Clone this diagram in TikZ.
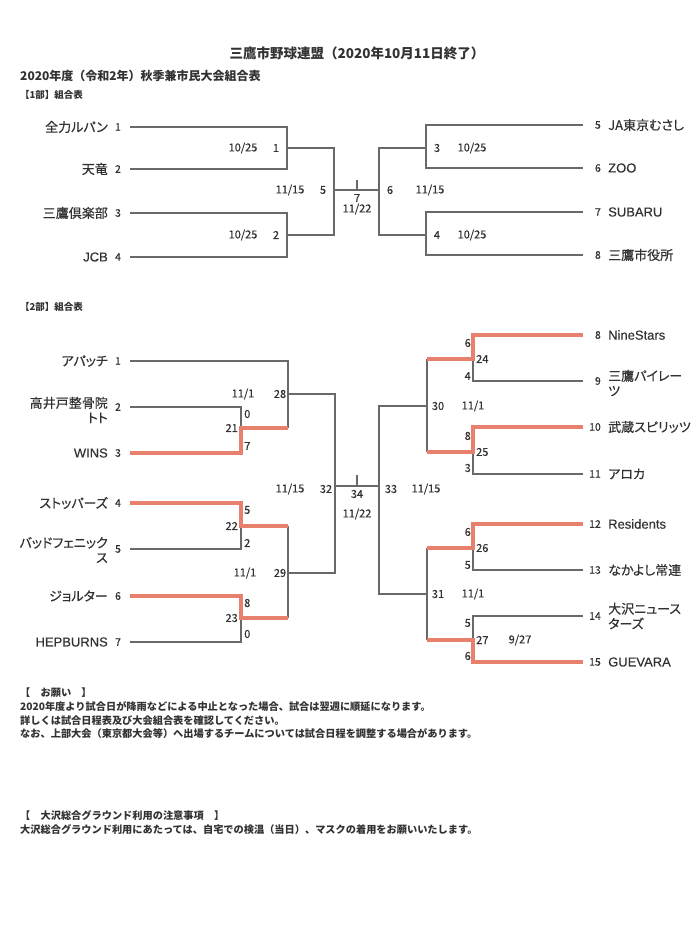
\documentclass[tikz,border=0pt]{standalone}
\usepackage{fontspec}
\setmainfont{Liberation Sans}[FakeBold=0.3]
\newfontfamily\jp{Noto Sans CJK JP}[FakeBold=0.3]
\newfontfamily\jpp{Noto Sans CJK JP}[RawFeature=+palt,FakeBold=0.35]
\newfontfamily\jpb{Noto Sans CJK JP}
\definecolor{txt}{RGB}{50,50,50}
\definecolor{lnc}{RGB}{105,105,105}
\definecolor{winc}{RGB}{232,128,110}
\tikzset{
  ln/.style={draw=lnc, line width=1.1pt},
  win/.style={draw=winc, line width=3.2pt, line join=miter},
  tname/.style={font=\jpp\fontsize{13}{15}\selectfont, text=txt, inner sep=0pt},
  lname/.style={font=\fontsize{13}{15}\selectfont, text=txt, inner sep=0pt},
  tnum/.style={font=\jp\fontsize{10.5}{12}\selectfont, text=txt, inner sep=0pt},
  lbl/.style={font=\jp\fontsize{11}{12}\selectfont, text=txt, inner sep=0pt},
  head/.style={font=\jpb\bfseries\fontsize{12}{14}\selectfont, text=txt, inner sep=0pt, anchor=west},
  note/.style={font=\jpb\bfseries\fontsize{10.2}{12}\selectfont, text=txt, inner sep=0pt, anchor=west},
}
\begin{document}
\begin{tikzpicture}[x=1pt,y=-1pt]
\useasboundingbox[fill=white] (0,0) rectangle (699,944);

% ---------- headers ----------
\node[font=\jpb\bfseries\fontsize{13.5}{16}\selectfont, text=txt, inner sep=0pt] (title) at (357,53) {三鷹市野球連盟（2020年10月11日終了）};
\node[head] (sub) at (20,76) {2020年度（令和2年）秋季兼市民大会組合表};
\node[head, font=\jpb\bfseries\fontsize{9.5}{11}\selectfont] (h1) at (20,95) {【1部】組合表};
\node[head, font=\jpb\bfseries\fontsize{9.5}{11}\selectfont] (h2) at (20,307) {【2部】組合表};

% ---------- section 1 coordinates ----------
\coordinate (t1s) at (130,127);
\coordinate (t2s) at (130,169);
\coordinate (t3s) at (130,213);
\coordinate (t4s) at (130,257);
\coordinate (m1) at (287,148);
\coordinate (m2) at (287,235);
\coordinate (m5) at (334,190);
\coordinate (c7) at (357,190);
\coordinate (c7t) at (357,180);
\coordinate (m6) at (379,190);
\coordinate (m3) at (426,148);
\coordinate (m4) at (426,235);
\coordinate (t5s) at (583,125);
\coordinate (t6s) at (583,168);
\coordinate (t7s) at (583,212);
\coordinate (t8s) at (583,255);

\draw[ln] (t1s) -| (m1) |- (t2s);
\draw[ln] (t3s) -| (m2) |- (t4s);
\draw[ln] (m1) -| (m5) |- (m2);
\draw[ln] (m5) -- (c7) -- (m6);
\draw[ln] (c7) -- (c7t);
\draw[ln] (m3) -| (m6) |- (m4);
\draw[ln] (t5s) -| (m3) |- (t6s);
\draw[ln] (t7s) -| (m4) |- (t8s);

% section 1 team labels
\node[tname, anchor=east] (n1a) at (108,127) {全力ルパン};
\node[tnum] (k1a) at (118,127) {1};
\node[tname, anchor=east] (n1b) at (108,169) {天竜};
\node[tnum] (k1b) at (118,169) {2};
\node[tname, anchor=east] (n1c) at (108,213) {三鷹倶楽部};
\node[tnum] (k1c) at (118,213) {3};
\node[lname, anchor=east] (n1d) at (108,257) {JCB};
\node[tnum] (k1d) at (118,257) {4};
\node[tnum, anchor=east] (k1e) at (601,125) {5};
\node[tname, anchor=west] (n1e) at (608,125) {JA東京むさし};
\node[tnum, anchor=east] (k1f) at (601,168) {6};
\node[lname, anchor=west] (n1f) at (608,168) {ZOO};
\node[tnum, anchor=east] (k1g) at (601,212) {7};
\node[lname, anchor=west] (n1g) at (608,212) {SUBARU};
\node[tnum, anchor=east] (k1h) at (601,255) {8};
\node[tname, anchor=west] (n1h) at (608,255) {三鷹市役所};

% section 1 match labels
\node[lbl] (d1) at (243,148) {10/25};
\node[lbl] (g1) at (276,148) {1};
\node[lbl] (d2) at (243,235) {10/25};
\node[lbl] (g2) at (276,235) {2};
\node[lbl] (d5) at (290,190) {11/15};
\node[lbl] (g5) at (323,190) {5};
\node[lbl] (g7) at (357,198) {7};
\node[lbl] (d7) at (357,209) {11/22};
\node[lbl] (g6) at (390,190) {6};
\node[lbl] (d6) at (430,190) {11/15};
\node[lbl] (g3) at (437,148) {3};
\node[lbl] (d3) at (472,148) {10/25};
\node[lbl] (g4) at (437,235) {4};
\node[lbl] (d4) at (472,235) {10/25};

% ---------- section 2 coordinates ----------
\coordinate (u1s) at (130,361);
\coordinate (u2s) at (130,407);
\coordinate (u3s) at (130,453);
\coordinate (u4s) at (130,503);
\coordinate (u5s) at (130,549);
\coordinate (u6s) at (130,596);
\coordinate (u7s) at (130,642);
\coordinate (q21) at (241,428);
\coordinate (q22) at (241,526);
\coordinate (q23) at (241,618);
\coordinate (q28) at (288,394);
\coordinate (q28b) at (288,428);
\coordinate (q29) at (288,573);
\coordinate (q29t) at (288,526);
\coordinate (q29b) at (288,618);
\coordinate (q32) at (335,486);
\coordinate (q34) at (357,486);
\coordinate (q34t) at (357,475);
\coordinate (q33) at (379,486);
\coordinate (q30) at (427,406);
\coordinate (q30t) at (427,359);
\coordinate (q30b) at (427,452);
\coordinate (q31) at (427,594);
\coordinate (q31t) at (427,548);
\coordinate (q31b) at (427,640);
\coordinate (q24) at (473,359);
\coordinate (q25) at (473,452);
\coordinate (q26) at (473,548);
\coordinate (q27) at (473,640);
\coordinate (v8s) at (583,335);
\coordinate (v9s) at (583,381);
\coordinate (v10s) at (583,427);
\coordinate (v11s) at (583,474);
\coordinate (v12s) at (583,524);
\coordinate (v13s) at (583,570);
\coordinate (v14s) at (583,616);
\coordinate (v15s) at (583,662);

% black lines
\draw[ln] (u1s) -| (q28) -- (q28b);
\draw[ln] (u2s) -| (q21);
\draw[ln] (u5s) -| (q22);
\draw[ln] (u7s) -| (q23);
\draw[ln] (q29t) -- (q29b);
\draw[ln] (q28) -| (q32) |- (q29);
\draw[ln] (q32) -- (q34) -- (q33);
\draw[ln] (q34) -- (q34t);
\draw[ln] (q30) -| (q33) |- (q31);
\draw[ln] (q30t) -- (q30b);
\draw[ln] (q31t) -- (q31b);
\draw[ln] (v9s) -| (q24);
\draw[ln] (v11s) -| (q25);
\draw[ln] (v13s) -| (q26);
\draw[ln] (v14s) -| (q27);

% winner lines
\draw[win] (u3s) -| (q21) -- (q28b);
\draw[win] (u4s) -| (q22) -- (q29t);
\draw[win] (u6s) -| (q23) -- (q29b);
\draw[win] (v8s) -| (q24) -- (q30t);
\draw[win] (v10s) -| (q25) -- (q30b);
\draw[win] (v12s) -| (q26) -- (q31t);
\draw[win] (v15s) -| (q27) -- (q31b);

% section 2 team labels (left)
\node[tname, anchor=east] (p1) at (108,361) {アパッチ};
\node[tnum] (r1) at (118,361) {1};
\node[tname, anchor=east, align=right] (p2) at (108,410) {高井戸整骨院\\トト};
\node[tnum] (r2) at (118,407) {2};
\node[lname, anchor=east] (p3) at (108,453) {WINS};
\node[tnum] (r3) at (118,453) {3};
\node[tname, anchor=east] (p4) at (108,503) {ストッパーズ};
\node[tnum] (r4) at (118,503) {4};
\node[tname, anchor=east, align=right] (p5) at (108,550) {バッドフェニック\\ス};
\node[tnum] (r5) at (118,549) {5};
\node[tname, anchor=east] (p6) at (108,596) {ジョルター};
\node[tnum] (r6) at (118,596) {6};
\node[lname, anchor=east] (p7) at (108,642) {HEPBURNS};
\node[tnum] (r7) at (118,642) {7};

% section 2 team labels (right)
\node[tnum, anchor=east] (r8) at (601,335) {8};
\node[lname, anchor=west] (p8) at (608,335) {NineStars};
\node[tnum, anchor=east] (r9) at (601,381) {9};
\node[tname, anchor=west, align=left] (p9) at (608,383) {三鷹パイレー\\ツ};
\node[tnum, anchor=east] (r10) at (601,427) {10};
\node[tname, anchor=west] (p10) at (608,427) {武蔵スピリッツ};
\node[tnum, anchor=east] (r11) at (601,474) {11};
\node[tname, anchor=west] (p11) at (608,474) {アロカ};
\node[tnum, anchor=east] (r12) at (601,524) {12};
\node[lname, anchor=west] (p12) at (608,524) {Residents};
\node[tnum, anchor=east] (r13) at (601,570) {13};
\node[tname, anchor=west] (p13) at (608,570) {なかよし常連};
\node[tnum, anchor=east] (r14) at (601,616) {14};
\node[tname, anchor=west, align=left] (p14) at (608,616) {大沢ニュース\\ターズ};
\node[tnum, anchor=east] (r15) at (601,662) {15};
\node[lname, anchor=west] (p15) at (608,662) {GUEVARA};

% section 2 match labels (left)
\node[lbl] (e28) at (243,394) {11/1};
\node[lbl] (f28) at (280,394) {28};
\node[lbl, anchor=west] (s21a) at (244,414) {0};
\node[lbl, anchor=east] (f21) at (238,428) {21};
\node[lbl, anchor=west] (s21b) at (244,446) {7};
\node[lbl, anchor=west] (s22a) at (244,510) {5};
\node[lbl, anchor=east] (f22) at (238,526) {22};
\node[lbl, anchor=west] (s22b) at (244,543) {2};
\node[lbl] (e29) at (245,573) {11/1};
\node[lbl] (f29) at (280,573) {29};
\node[lbl, anchor=west] (s23a) at (244,603) {8};
\node[lbl, anchor=east] (f23) at (238,618) {23};
\node[lbl, anchor=west] (s23b) at (244,634) {0};
\node[lbl] (e32) at (290,489) {11/15};
\node[lbl] (f32) at (326,489) {32};
\node[lbl] (f34) at (357,494) {34};
\node[lbl] (e34) at (357,514) {11/22};
\node[lbl] (f33) at (391,489) {33};
\node[lbl] (e33) at (426,489) {11/15};

% section 2 match labels (right)
\node[lbl, anchor=east] (s24a) at (471,343) {6};
\node[lbl, anchor=west] (f24) at (476,359) {24};
\node[lbl, anchor=east] (s24b) at (471,376) {4};
\node[lbl, anchor=east] (s25a) at (471,436) {8};
\node[lbl, anchor=west] (f25) at (476,452) {25};
\node[lbl, anchor=east] (s25b) at (471,468) {3};
\node[lbl, anchor=east] (s26a) at (471,532) {6};
\node[lbl, anchor=west] (f26) at (476,548) {26};
\node[lbl, anchor=east] (s26b) at (471,565) {5};
\node[lbl, anchor=east] (s27a) at (471,623) {5};
\node[lbl, anchor=west] (f27) at (476,640) {27};
\node[lbl] (e27) at (520,640) {9/27};
\node[lbl, anchor=east] (s27b) at (471,656) {6};
\node[lbl] (f30) at (438,406) {30};
\node[lbl] (e30) at (473,406) {11/1};
\node[lbl] (f31) at (438,594) {31};
\node[lbl] (e31) at (473,594) {11/1};

% ---------- notes ----------
\node[note] (o1) at (20,693) {【　お願い　】};
\node[note] (o2) at (20,707) {2020年度より試合日が降雨などによる中止となった場合、試合は翌週に順延になります。};
\node[note] (o3) at (20,721) {詳しくは試合日程表及び大会組合表を確認してください。};
\node[note] (o4) at (20,734) {なお、上部大会（東京都大会等）へ出場するチームについては試合日程を調整する場合があります。};
\node[note] (o5) at (20,816) {【　大沢総合グラウンド利用の注意事項　】};
\node[note] (o6) at (20,830) {大沢総合グラウンド利用にあたっては、自宅での検温（当日）、マスクの着用をお願いいたします。};
\end{tikzpicture}
\end{document}
